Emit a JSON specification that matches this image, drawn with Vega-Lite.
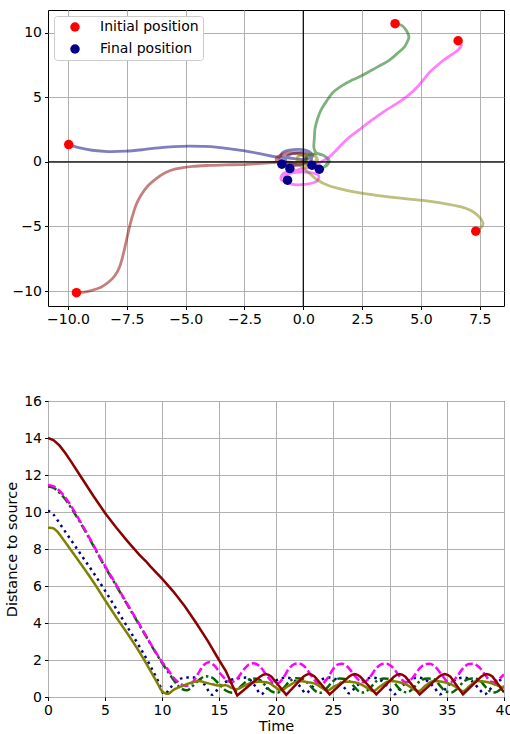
{
  "$schema": "https://vega.github.io/schema/vega-lite/v6.json",
  "background": "white",
  "padding": {"left": 4, "top": 8, "right": 0, "bottom": 0},
  "spacing": 66,
  "config": {
    "font": "DejaVu Sans",
    "view": {"stroke": "black", "strokeWidth": 1},
    "axis": {
      "domain": false, "grid": true, "gridColor": "#b0b0b0", "gridWidth": 1,
      "tickColor": "black", "tickSize": 3.5, "tickWidth": 1,
      "labelColor": "black", "labelFontSize": 14, "labelPadding": 3,
      "labelFlush": false, "labelOverlap": false,
      "titleFontSize": 14.5, "titleFontWeight": "normal", "titleColor": "black", "titlePadding": 4
    }
  },
  "datasets": {
    "traj": [
      {"id":"navy","o":0,"x":-9.97,"y":1.34},{"id":"navy","o":1,"x":-9.5,"y":1.08},{"id":"navy","o":2,"x":-8.98,"y":0.9},{"id":"navy","o":3,"x":-8.3,"y":0.8},{"id":"navy","o":4,"x":-7.55,"y":0.83},{"id":"navy","o":5,"x":-6.8,"y":0.95},{"id":"navy","o":6,"x":-6.14,"y":1.09},{"id":"navy","o":7,"x":-5.5,"y":1.18},{"id":"navy","o":8,"x":-4.86,"y":1.22},{"id":"navy","o":9,"x":-4.3,"y":1.2},{"id":"navy","o":10,"x":-3.72,"y":1.15},{"id":"navy","o":11,"x":-3.1,"y":1.0},{"id":"navy","o":12,"x":-2.44,"y":0.83},{"id":"navy","o":13,"x":-1.8,"y":0.62},{"id":"navy","o":14,"x":-1.16,"y":0.39},{"id":"navy","o":15,"x":-0.6,"y":0.3},{"id":"navy","o":16,"x":0.0,"y":0.2},{"id":"navy","o":17,"x":0.4,"y":0.45},{"id":"navy","o":18,"x":0.2,"y":0.85},{"id":"navy","o":19,"x":-0.4,"y":0.95},{"id":"navy","o":20,"x":-0.9,"y":0.7},{"id":"navy","o":21,"x":-0.95,"y":0.25},{"id":"navy","o":22,"x":-0.6,"y":-0.1},{"id":"navy","o":23,"x":0.0,"y":-0.15},{"id":"navy","o":24,"x":0.35,"y":0.2},{"id":"navy","o":25,"x":0.2,"y":0.6},{"id":"navy","o":26,"x":-0.3,"y":0.7},{"id":"navy","o":27,"x":-0.7,"y":0.4},{"id":"navy","o":28,"x":-0.75,"y":-0.05},{"id":"navy","o":29,"x":-0.57,"y":-0.52},
      {"id":"darkred","o":0,"x":-9.64,"y":-10.13},{"id":"darkred","o":1,"x":-9.3,"y":-10.08},{"id":"darkred","o":2,"x":-8.98,"y":-9.95},{"id":"darkred","o":3,"x":-8.6,"y":-9.7},{"id":"darkred","o":4,"x":-8.27,"y":-9.3},{"id":"darkred","o":5,"x":-8.0,"y":-8.8},{"id":"darkred","o":6,"x":-7.8,"y":-8.1},{"id":"darkred","o":7,"x":-7.63,"y":-7.0},{"id":"darkred","o":8,"x":-7.5,"y":-5.94},{"id":"darkred","o":9,"x":-7.38,"y":-5.0},{"id":"darkred","o":10,"x":-7.25,"y":-4.13},{"id":"darkred","o":11,"x":-7.1,"y":-3.3},{"id":"darkred","o":12,"x":-6.9,"y":-2.58},{"id":"darkred","o":13,"x":-6.6,"y":-1.85},{"id":"darkred","o":14,"x":-6.25,"y":-1.29},{"id":"darkred","o":15,"x":-5.85,"y":-0.82},{"id":"darkred","o":16,"x":-5.42,"y":-0.55},{"id":"darkred","o":17,"x":-4.7,"y":-0.35},{"id":"darkred","o":18,"x":-4.0,"y":-0.27},{"id":"darkred","o":19,"x":-3.3,"y":-0.23},{"id":"darkred","o":20,"x":-2.59,"y":-0.21},{"id":"darkred","o":21,"x":-1.9,"y":-0.13},{"id":"darkred","o":22,"x":-1.31,"y":-0.05},{"id":"darkred","o":23,"x":-0.8,"y":0.0},{"id":"darkred","o":24,"x":-0.3,"y":-0.05},{"id":"darkred","o":25,"x":0.1,"y":0.15},{"id":"darkred","o":26,"x":0.1,"y":0.5},{"id":"darkred","o":27,"x":-0.35,"y":0.7},{"id":"darkred","o":28,"x":-0.85,"y":0.6},{"id":"darkred","o":29,"x":-1.15,"y":0.25},{"id":"darkred","o":30,"x":-1.0,"y":-0.15},{"id":"darkred","o":31,"x":-0.5,"y":-0.3},{"id":"darkred","o":32,"x":0.0,"y":-0.15},{"id":"darkred","o":33,"x":0.15,"y":0.25},{"id":"darkred","o":34,"x":-0.2,"y":0.6},{"id":"darkred","o":35,"x":-0.7,"y":0.6},{"id":"darkred","o":36,"x":-1.05,"y":0.3},{"id":"darkred","o":37,"x":-0.91,"y":-0.18},
      {"id":"green","o":0,"x":3.9,"y":10.7},{"id":"green","o":1,"x":4.2,"y":10.55},{"id":"green","o":2,"x":4.37,"y":10.2},{"id":"green","o":3,"x":4.49,"y":9.69},{"id":"green","o":4,"x":4.42,"y":9.3},{"id":"green","o":5,"x":4.3,"y":8.91},{"id":"green","o":6,"x":4.0,"y":8.4},{"id":"green","o":7,"x":3.66,"y":7.88},{"id":"green","o":8,"x":3.1,"y":7.3},{"id":"green","o":9,"x":2.53,"y":6.72},{"id":"green","o":10,"x":2.1,"y":6.35},{"id":"green","o":11,"x":1.68,"y":5.94},{"id":"green","o":12,"x":1.25,"y":5.35},{"id":"green","o":13,"x":0.97,"y":4.65},{"id":"green","o":14,"x":0.75,"y":4.0},{"id":"green","o":15,"x":0.61,"y":3.36},{"id":"green","o":16,"x":0.5,"y":2.6},{"id":"green","o":17,"x":0.47,"y":1.81},{"id":"green","o":18,"x":0.45,"y":1.1},{"id":"green","o":19,"x":0.55,"y":0.7},{"id":"green","o":20,"x":0.85,"y":0.5},{"id":"green","o":21,"x":1.1,"y":0.1},{"id":"green","o":22,"x":0.95,"y":-0.35},{"id":"green","o":23,"x":0.5,"y":-0.45},{"id":"green","o":24,"x":0.15,"y":-0.15},{"id":"green","o":25,"x":0.1,"y":0.3},{"id":"green","o":26,"x":0.4,"y":0.6},{"id":"green","o":27,"x":0.8,"y":0.55},{"id":"green","o":28,"x":1.05,"y":0.15},{"id":"green","o":29,"x":0.95,"y":-0.3},{"id":"green","o":30,"x":0.68,"y":-0.57},
      {"id":"magenta","o":0,"x":6.58,"y":9.38},{"id":"magenta","o":1,"x":6.72,"y":9.1},{"id":"magenta","o":2,"x":6.6,"y":8.7},{"id":"magenta","o":3,"x":6.3,"y":8.3},{"id":"magenta","o":4,"x":5.94,"y":7.85},{"id":"magenta","o":5,"x":5.65,"y":7.4},{"id":"magenta","o":6,"x":5.37,"y":6.95},{"id":"magenta","o":7,"x":5.15,"y":6.45},{"id":"magenta","o":8,"x":4.92,"y":5.95},{"id":"magenta","o":9,"x":4.65,"y":5.45},{"id":"magenta","o":10,"x":4.35,"y":5.0},{"id":"magenta","o":11,"x":4.0,"y":4.55},{"id":"magenta","o":12,"x":3.6,"y":4.1},{"id":"magenta","o":13,"x":3.2,"y":3.6},{"id":"magenta","o":14,"x":2.81,"y":3.1},{"id":"magenta","o":15,"x":2.35,"y":2.45},{"id":"magenta","o":16,"x":1.89,"y":1.81},{"id":"magenta","o":17,"x":1.5,"y":1.1},{"id":"magenta","o":18,"x":1.11,"y":0.39},{"id":"magenta","o":19,"x":0.7,"y":-0.05},{"id":"magenta","o":20,"x":0.3,"y":-0.4},{"id":"magenta","o":21,"x":-0.3,"y":-0.65},{"id":"magenta","o":22,"x":-0.85,"y":-0.9},{"id":"magenta","o":23,"x":-0.95,"y":-1.35},{"id":"magenta","o":24,"x":-0.55,"y":-1.7},{"id":"magenta","o":25,"x":0.05,"y":-1.75},{"id":"magenta","o":26,"x":0.6,"y":-1.45},{"id":"magenta","o":27,"x":0.65,"y":-1.05},{"id":"magenta","o":28,"x":0.15,"y":-0.8},{"id":"magenta","o":29,"x":-0.45,"y":-0.85},{"id":"magenta","o":30,"x":-0.85,"y":-1.1},{"id":"magenta","o":31,"x":-0.67,"y":-1.42},
      {"id":"olive","o":0,"x":7.33,"y":-5.37},{"id":"olive","o":1,"x":7.55,"y":-5.1},{"id":"olive","o":2,"x":7.64,"y":-4.78},{"id":"olive","o":3,"x":7.55,"y":-4.42},{"id":"olive","o":4,"x":7.35,"y":-4.05},{"id":"olive","o":5,"x":7.1,"y":-3.75},{"id":"olive","o":6,"x":6.72,"y":-3.49},{"id":"olive","o":7,"x":5.9,"y":-3.2},{"id":"olive","o":8,"x":5.01,"y":-2.97},{"id":"olive","o":9,"x":3.8,"y":-2.75},{"id":"olive","o":10,"x":2.6,"y":-2.46},{"id":"olive","o":11,"x":1.7,"y":-2.15},{"id":"olive","o":12,"x":1.04,"y":-1.81},{"id":"olive","o":13,"x":0.6,"y":-1.4},{"id":"olive","o":14,"x":0.33,"y":-1.0},{"id":"olive","o":15,"x":0.05,"y":-0.55},{"id":"olive","o":16,"x":-0.25,"y":-0.05},{"id":"olive","o":17,"x":-0.2,"y":0.45},{"id":"olive","o":18,"x":0.2,"y":0.62},{"id":"olive","o":19,"x":0.55,"y":0.4},{"id":"olive","o":20,"x":0.5,"y":0.0},{"id":"olive","o":21,"x":0.15,"y":-0.3},{"id":"olive","o":22,"x":-0.2,"y":-0.1},{"id":"olive","o":23,"x":-0.25,"y":0.35},{"id":"olive","o":24,"x":0.1,"y":0.58},{"id":"olive","o":25,"x":0.5,"y":0.45},{"id":"olive","o":26,"x":0.6,"y":0.05},{"id":"olive","o":27,"x":0.37,"y":-0.26}
    ],
    "pts": [
      {"kind":"Initial position","x":-9.97,"y":1.34},{"kind":"Initial position","x":-9.64,"y":-10.13},{"kind":"Initial position","x":3.9,"y":10.7},{"kind":"Initial position","x":6.58,"y":9.38},{"kind":"Initial position","x":7.33,"y":-5.37},
      {"kind":"Final position","x":-0.57,"y":-0.52},{"kind":"Final position","x":-0.91,"y":-0.18},{"kind":"Final position","x":0.68,"y":-0.57},{"kind":"Final position","x":-0.67,"y":-1.42},{"kind":"Final position","x":0.37,"y":-0.26}
    ],
    "dist": [
      {"s":"navy","t":0,"d":10.08},{"s":"navy","t":0.5,"d":9.85},{"s":"navy","t":1,"d":9.4},{"s":"navy","t":2,"d":8.5},{"s":"navy","t":3,"d":7.6},{"s":"navy","t":4,"d":6.7},{"s":"navy","t":5,"d":5.75},{"s":"navy","t":6,"d":4.75},{"s":"navy","t":7,"d":3.75},{"s":"navy","t":8,"d":2.75},{"s":"navy","t":9,"d":1.65},{"s":"navy","t":9.7,"d":0.8},{"s":"navy","t":10.2,"d":0.15},{"s":"navy","t":10.8,"d":0.55},{"s":"navy","t":11.5,"d":0.95},{"s":"navy","t":12.2,"d":1.06},{"s":"navy","t":13.0,"d":1.05},{"s":"navy","t":13.7,"d":0.7},{"s":"navy","t":14.4,"d":0.12},{"s":"navy","t":15.1,"d":0.6},{"s":"navy","t":15.9,"d":0.9},{"s":"navy","t":16.6,"d":1.0},{"s":"navy","t":17.4,"d":1.05},{"s":"navy","t":18.1,"d":0.65},{"s":"navy","t":18.7,"d":0.15},{"s":"navy","t":19.4,"d":0.6},{"s":"navy","t":20.2,"d":0.95},{"s":"navy","t":20.9,"d":1.05},{"s":"navy","t":21.6,"d":0.9},{"s":"navy","t":22.2,"d":0.5},{"s":"navy","t":22.6,"d":0.2},{"s":"navy","t":23.2,"d":0.55},{"s":"navy","t":24.0,"d":0.95},{"s":"navy","t":24.7,"d":1.05},{"s":"navy","t":25.4,"d":0.9},{"s":"navy","t":26.0,"d":0.5},{"s":"navy","t":26.4,"d":0.2},{"s":"navy","t":27.0,"d":0.55},{"s":"navy","t":27.8,"d":0.95},{"s":"navy","t":28.5,"d":1.05},{"s":"navy","t":29.2,"d":0.9},{"s":"navy","t":29.9,"d":0.5},{"s":"navy","t":30.4,"d":0.15},{"s":"navy","t":31.0,"d":0.55},{"s":"navy","t":31.8,"d":0.95},{"s":"navy","t":32.5,"d":1.05},{"s":"navy","t":33.2,"d":0.9},{"s":"navy","t":33.9,"d":0.5},{"s":"navy","t":34.4,"d":0.15},{"s":"navy","t":35.0,"d":0.55},{"s":"navy","t":35.8,"d":0.95},{"s":"navy","t":36.5,"d":1.05},{"s":"navy","t":37.2,"d":0.85},{"s":"navy","t":37.8,"d":0.45},{"s":"navy","t":38.3,"d":0.15},{"s":"navy","t":38.9,"d":0.5},{"s":"navy","t":39.5,"d":0.85},{"s":"navy","t":40,"d":1.0},
      {"s":"green","t":0,"d":11.38},{"s":"green","t":0.5,"d":11.3},{"s":"green","t":1,"d":11.05},{"s":"green","t":1.5,"d":10.7},{"s":"green","t":2,"d":10.25},{"s":"green","t":3,"d":9.25},{"s":"green","t":4,"d":8.15},{"s":"green","t":4.75,"d":7.3},{"s":"green","t":6,"d":6.0},{"s":"green","t":6.8,"d":5.15},{"s":"green","t":8,"d":3.9},{"s":"green","t":8.86,"d":3.0},{"s":"green","t":10,"d":1.85},{"s":"green","t":10.6,"d":1.3},{"s":"green","t":11.1,"d":0.85},{"s":"green","t":11.6,"d":0.5},{"s":"green","t":12.2,"d":0.36},{"s":"green","t":12.7,"d":0.6},{"s":"green","t":13.3,"d":0.95},{"s":"green","t":13.8,"d":1.12},{"s":"green","t":14.4,"d":1.05},{"s":"green","t":15.0,"d":0.7},{"s":"green","t":15.6,"d":0.35},{"s":"green","t":16.2,"d":0.23},{"s":"green","t":16.7,"d":0.45},{"s":"green","t":17.3,"d":0.8},{"s":"green","t":17.9,"d":1.0},{"s":"green","t":18.5,"d":0.95},{"s":"green","t":19.1,"d":0.6},{"s":"green","t":19.6,"d":0.3},{"s":"green","t":20.1,"d":0.23},{"s":"green","t":20.6,"d":0.45},{"s":"green","t":21.2,"d":0.85},{"s":"green","t":21.8,"d":1.02},{"s":"green","t":22.4,"d":0.95},{"s":"green","t":23.0,"d":0.6},{"s":"green","t":23.5,"d":0.3},{"s":"green","t":23.9,"d":0.23},{"s":"green","t":24.4,"d":0.45},{"s":"green","t":25.0,"d":0.85},{"s":"green","t":25.6,"d":1.0},{"s":"green","t":26.2,"d":0.95},{"s":"green","t":26.8,"d":0.6},{"s":"green","t":27.3,"d":0.3},{"s":"green","t":27.7,"d":0.25},{"s":"green","t":28.2,"d":0.45},{"s":"green","t":28.8,"d":0.85},{"s":"green","t":29.5,"d":1.0},{"s":"green","t":30.1,"d":0.95},{"s":"green","t":30.6,"d":0.6},{"s":"green","t":31.1,"d":0.3},{"s":"green","t":31.5,"d":0.25},{"s":"green","t":32.0,"d":0.45},{"s":"green","t":32.6,"d":0.85},{"s":"green","t":33.3,"d":1.0},{"s":"green","t":33.9,"d":0.95},{"s":"green","t":34.4,"d":0.6},{"s":"green","t":34.9,"d":0.3},{"s":"green","t":35.4,"d":0.25},{"s":"green","t":35.9,"d":0.45},{"s":"green","t":36.5,"d":0.85},{"s":"green","t":37.2,"d":1.0},{"s":"green","t":37.8,"d":0.95},{"s":"green","t":38.3,"d":0.6},{"s":"green","t":38.8,"d":0.3},{"s":"green","t":39.2,"d":0.25},{"s":"green","t":39.7,"d":0.42},{"s":"green","t":40,"d":0.6},
      {"s":"magenta","t":0,"d":11.46},{"s":"magenta","t":0.5,"d":11.38},{"s":"magenta","t":1,"d":11.15},{"s":"magenta","t":1.5,"d":10.8},{"s":"magenta","t":2,"d":10.35},{"s":"magenta","t":3,"d":9.3},{"s":"magenta","t":4,"d":8.2},{"s":"magenta","t":4.75,"d":7.35},{"s":"magenta","t":6,"d":6.05},{"s":"magenta","t":6.8,"d":5.19},{"s":"magenta","t":8,"d":3.95},{"s":"magenta","t":8.86,"d":3.03},{"s":"magenta","t":10,"d":1.9},{"s":"magenta","t":10.6,"d":1.41},{"s":"magenta","t":11.0,"d":1.05},{"s":"magenta","t":11.5,"d":0.77},{"s":"magenta","t":12.1,"d":0.6},{"s":"magenta","t":12.7,"d":0.8},{"s":"magenta","t":13.3,"d":1.4},{"s":"magenta","t":13.7,"d":1.75},{"s":"magenta","t":14.1,"d":1.88},{"s":"magenta","t":14.6,"d":1.7},{"s":"magenta","t":15.2,"d":1.2},{"s":"magenta","t":15.7,"d":0.9},{"s":"magenta","t":16.1,"d":0.8},{"s":"magenta","t":16.6,"d":1.0},{"s":"magenta","t":17.2,"d":1.5},{"s":"magenta","t":17.6,"d":1.75},{"s":"magenta","t":18.0,"d":1.82},{"s":"magenta","t":18.6,"d":1.65},{"s":"magenta","t":19.2,"d":1.15},{"s":"magenta","t":19.7,"d":0.8},{"s":"magenta","t":20.1,"d":0.72},{"s":"magenta","t":20.6,"d":1.0},{"s":"magenta","t":21.1,"d":1.5},{"s":"magenta","t":21.6,"d":1.78},{"s":"magenta","t":22.0,"d":1.82},{"s":"magenta","t":22.5,"d":1.65},{"s":"magenta","t":23.1,"d":1.15},{"s":"magenta","t":23.6,"d":0.78},{"s":"magenta","t":24.0,"d":0.72},{"s":"magenta","t":24.5,"d":1.0},{"s":"magenta","t":25.0,"d":1.5},{"s":"magenta","t":25.4,"d":1.75},{"s":"magenta","t":25.8,"d":1.8},{"s":"magenta","t":26.3,"d":1.62},{"s":"magenta","t":26.9,"d":1.15},{"s":"magenta","t":27.4,"d":0.85},{"s":"magenta","t":27.7,"d":0.8},{"s":"magenta","t":28.2,"d":1.05},{"s":"magenta","t":28.8,"d":1.55},{"s":"magenta","t":29.3,"d":1.78},{"s":"magenta","t":29.7,"d":1.8},{"s":"magenta","t":30.2,"d":1.62},{"s":"magenta","t":30.8,"d":1.15},{"s":"magenta","t":31.2,"d":0.85},{"s":"magenta","t":31.5,"d":0.8},{"s":"magenta","t":32.0,"d":1.05},{"s":"magenta","t":32.6,"d":1.55},{"s":"magenta","t":33.1,"d":1.78},{"s":"magenta","t":33.5,"d":1.8},{"s":"magenta","t":34.0,"d":1.62},{"s":"magenta","t":34.6,"d":1.15},{"s":"magenta","t":35.0,"d":0.85},{"s":"magenta","t":35.3,"d":0.8},{"s":"magenta","t":35.8,"d":1.05},{"s":"magenta","t":36.4,"d":1.55},{"s":"magenta","t":36.9,"d":1.78},{"s":"magenta","t":37.3,"d":1.8},{"s":"magenta","t":37.8,"d":1.62},{"s":"magenta","t":38.4,"d":1.15},{"s":"magenta","t":38.8,"d":0.85},{"s":"magenta","t":39.1,"d":0.8},{"s":"magenta","t":39.6,"d":1.0},{"s":"magenta","t":40,"d":1.22},
      {"s":"olive","t":0,"d":9.15},{"s":"olive","t":0.4,"d":9.13},{"s":"olive","t":0.8,"d":8.95},{"s":"olive","t":1.3,"d":8.55},{"s":"olive","t":2,"d":7.95},{"s":"olive","t":2.7,"d":7.35},{"s":"olive","t":4,"d":6.2},{"s":"olive","t":5.05,"d":5.19},{"s":"olive","t":6,"d":4.3},{"s":"olive","t":7,"d":3.4},{"s":"olive","t":8,"d":2.45},{"s":"olive","t":9,"d":1.4},{"s":"olive","t":9.6,"d":0.75},{"s":"olive","t":10.0,"d":0.32},{"s":"olive","t":10.5,"d":0.17},{"s":"olive","t":11.0,"d":0.38},{"s":"olive","t":11.8,"d":0.6},{"s":"olive","t":12.6,"d":0.78},{"s":"olive","t":13.25,"d":0.86},{"s":"olive","t":13.8,"d":0.78},{"s":"olive","t":14.4,"d":0.69},{"s":"olive","t":15.0,"d":0.62},{"s":"olive","t":15.6,"d":0.63},{"s":"olive","t":16.1,"d":0.5},{"s":"olive","t":16.5,"d":0.42},{"s":"olive","t":17.2,"d":0.6},{"s":"olive","t":17.9,"d":0.78},{"s":"olive","t":18.6,"d":0.82},{"s":"olive","t":19.3,"d":0.78},{"s":"olive","t":19.9,"d":0.55},{"s":"olive","t":20.4,"d":0.36},{"s":"olive","t":21.1,"d":0.6},{"s":"olive","t":22.0,"d":0.86},{"s":"olive","t":22.8,"d":0.8},{"s":"olive","t":23.5,"d":0.7},{"s":"olive","t":24.0,"d":0.5},{"s":"olive","t":24.5,"d":0.36},{"s":"olive","t":25.2,"d":0.6},{"s":"olive","t":26.2,"d":0.83},{"s":"olive","t":27.0,"d":0.78},{"s":"olive","t":27.7,"d":0.6},{"s":"olive","t":28.1,"d":0.45},{"s":"olive","t":28.5,"d":0.32},{"s":"olive","t":29.2,"d":0.6},{"s":"olive","t":30.0,"d":0.86},{"s":"olive","t":30.8,"d":0.8},{"s":"olive","t":31.5,"d":0.65},{"s":"olive","t":32.0,"d":0.45},{"s":"olive","t":32.5,"d":0.32},{"s":"olive","t":33.1,"d":0.6},{"s":"olive","t":33.8,"d":0.86},{"s":"olive","t":34.6,"d":0.82},{"s":"olive","t":35.3,"d":0.7},{"s":"olive","t":35.9,"d":0.5},{"s":"olive","t":36.4,"d":0.32},{"s":"olive","t":37.0,"d":0.6},{"s":"olive","t":37.6,"d":0.86},{"s":"olive","t":38.4,"d":0.82},{"s":"olive","t":39.1,"d":0.7},{"s":"olive","t":39.6,"d":0.58},{"s":"olive","t":40,"d":0.5}
    ],
    "distred": [
      {"t":0,"d":14.0},{"t":0.5,"d":13.88},{"t":1,"d":13.6},{"t":1.5,"d":13.2},{"t":2,"d":12.75},{"t":3,"d":11.8},{"t":4,"d":10.85},{"t":5,"d":9.95},{"t":6,"d":9.15},{"t":7,"d":8.4},{"t":8,"d":7.7},{"t":8.57,"d":7.35},{"t":9,"d":7.05},{"t":10,"d":6.4},{"t":11,"d":5.7},{"t":12,"d":4.9},{"t":13,"d":4.0},{"t":14,"d":3.05},{"t":15,"d":2.0},{"t":15.6,"d":1.4},{"t":16,"d":0.85},{"t":16.6,"d":0.08},
      {"t":18.6,"d":1.1},{"t":18.85,"d":1.2},{"t":19.1,"d":1.24},{"t":19.35,"d":1.2},{"t":19.6,"d":1.1},{"t":20.9,"d":0.12},
      {"t":22.4,"d":1.1},{"t":22.65,"d":1.2},{"t":22.9,"d":1.25},{"t":23.15,"d":1.2},{"t":23.4,"d":1.1},{"t":24.7,"d":0.14},
      {"t":26.4,"d":1.1},{"t":26.65,"d":1.2},{"t":26.9,"d":1.24},{"t":27.15,"d":1.2},{"t":27.4,"d":1.1},{"t":28.8,"d":0.14},
      {"t":30.35,"d":1.1},{"t":30.6,"d":1.2},{"t":30.85,"d":1.24},{"t":31.1,"d":1.2},{"t":31.35,"d":1.1},{"t":32.6,"d":0.14},
      {"t":34.3,"d":1.1},{"t":34.55,"d":1.2},{"t":34.8,"d":1.24},{"t":35.05,"d":1.2},{"t":35.3,"d":1.1},{"t":36.4,"d":0.14},
      {"t":38.0,"d":1.1},{"t":38.25,"d":1.2},{"t":38.5,"d":1.24},{"t":38.75,"d":1.2},{"t":39.0,"d":1.1},{"t":40,"d":0.25}
    ]
  },
  "vconcat": [
    {
      "width": 456, "height": 296,
      "resolve": {"scale": {"color": "independent"}},
      "encoding": {
        "x": {"field": "x", "type": "quantitative", "scale": {"domain": [-10.85, 8.53], "nice": false, "zero": false},
              "axis": {"title": null, "values": [-10, -7.5, -5, -2.5, 0, 2.5, 5, 7.5], "format": ".1f", "labelOverlap": false}},
        "y": {"field": "y", "type": "quantitative", "scale": {"domain": [-11.16, 11.76], "nice": false, "zero": false},
              "axis": {"title": null, "values": [-10, -5, 0, 5, 10], "format": "d", "labelOverlap": false}}
      },
      "layer": [
        {
          "data": {"name": "traj"},
          "mark": {"type": "line", "interpolate": "catmull-rom", "strokeWidth": 2.8, "opacity": 0.5, "clip": true},
          "encoding": {
            "order": {"field": "o", "type": "quantitative"},
            "color": {"field": "id", "type": "nominal", "legend": null,
                      "scale": {"domain": ["navy", "darkred", "green", "magenta", "olive"], "range": ["#000080", "#8b0000", "#006400", "#ff00ff", "#808000"]}}
          }
        },
        {
          "data": {"values": [{"x": 0, "y": 0}]},
          "mark": {"type": "rule", "color": "black", "strokeWidth": 1.2},
          "encoding": {"y": null}
        },
        {
          "data": {"values": [{"x": 0, "y": 0}]},
          "mark": {"type": "rule", "color": "black", "strokeWidth": 1.2},
          "encoding": {"x": null}
        },
        {
          "data": {"name": "pts"},
          "mark": {"type": "point", "shape": "circle", "filled": true, "size": 90, "opacity": 1},
          "encoding": {
            "color": {"field": "kind", "type": "nominal",
                      "scale": {"domain": ["Initial position", "Final position"], "range": ["#ff0000", "#00008b"]},
                      "legend": {"title": null, "orient": "top-left", "offset": 6, "fillColor": "white", "strokeColor": "#cccccc",
                                 "cornerRadius": 3, "padding": 4, "symbolOffset": 10, "labelFontSize": 14, "labelColor": "black", "symbolSize": 90,
                                 "symbolType": "circle", "symbolOpacity": 1, "rowPadding": 8, "labelOffset": 18, "symbolStrokeWidth": 0}}
          }
        }
      ]
    },
    {
      "width": 456, "height": 296,
      "encoding": {
        "x": {"field": "t", "type": "quantitative", "scale": {"domain": [0, 40], "nice": false},
              "axis": {"title": "Time", "values": [0, 5, 10, 15, 20, 25, 30, 35, 40], "format": "d", "titlePadding": 2, "labelOverlap": false}},
        "y": {"field": "d", "type": "quantitative", "scale": {"domain": [0, 16], "nice": false},
              "axis": {"title": "Distance to source", "values": [0, 2, 4, 6, 8, 10, 12, 14, 16], "format": "d", "labelOverlap": false}}
      },
      "layer": [
        {
          "data": {"name": "dist"},
          "mark": {"type": "line", "interpolate": "monotone", "strokeWidth": 2.5, "clip": true},
          "encoding": {
            "color": {"field": "s", "type": "nominal", "legend": null,
                      "scale": {"domain": ["navy", "green", "magenta", "olive"], "range": ["#00008b", "#006400", "#ff00ff", "#808000"]}},
            "strokeDash": {"field": "s", "type": "nominal", "legend": null,
                      "scale": {"domain": ["navy", "green", "magenta", "olive"], "range": [[2.5, 4], [9, 3, 2.5, 3], [8, 3], [1, 0]]}}
          }
        },
        {
          "data": {"name": "distred"},
          "mark": {"type": "line", "interpolate": "linear", "strokeWidth": 2.5, "color": "#8b0000", "clip": true},
          "encoding": {}
        }
      ]
    }
  ]
}
